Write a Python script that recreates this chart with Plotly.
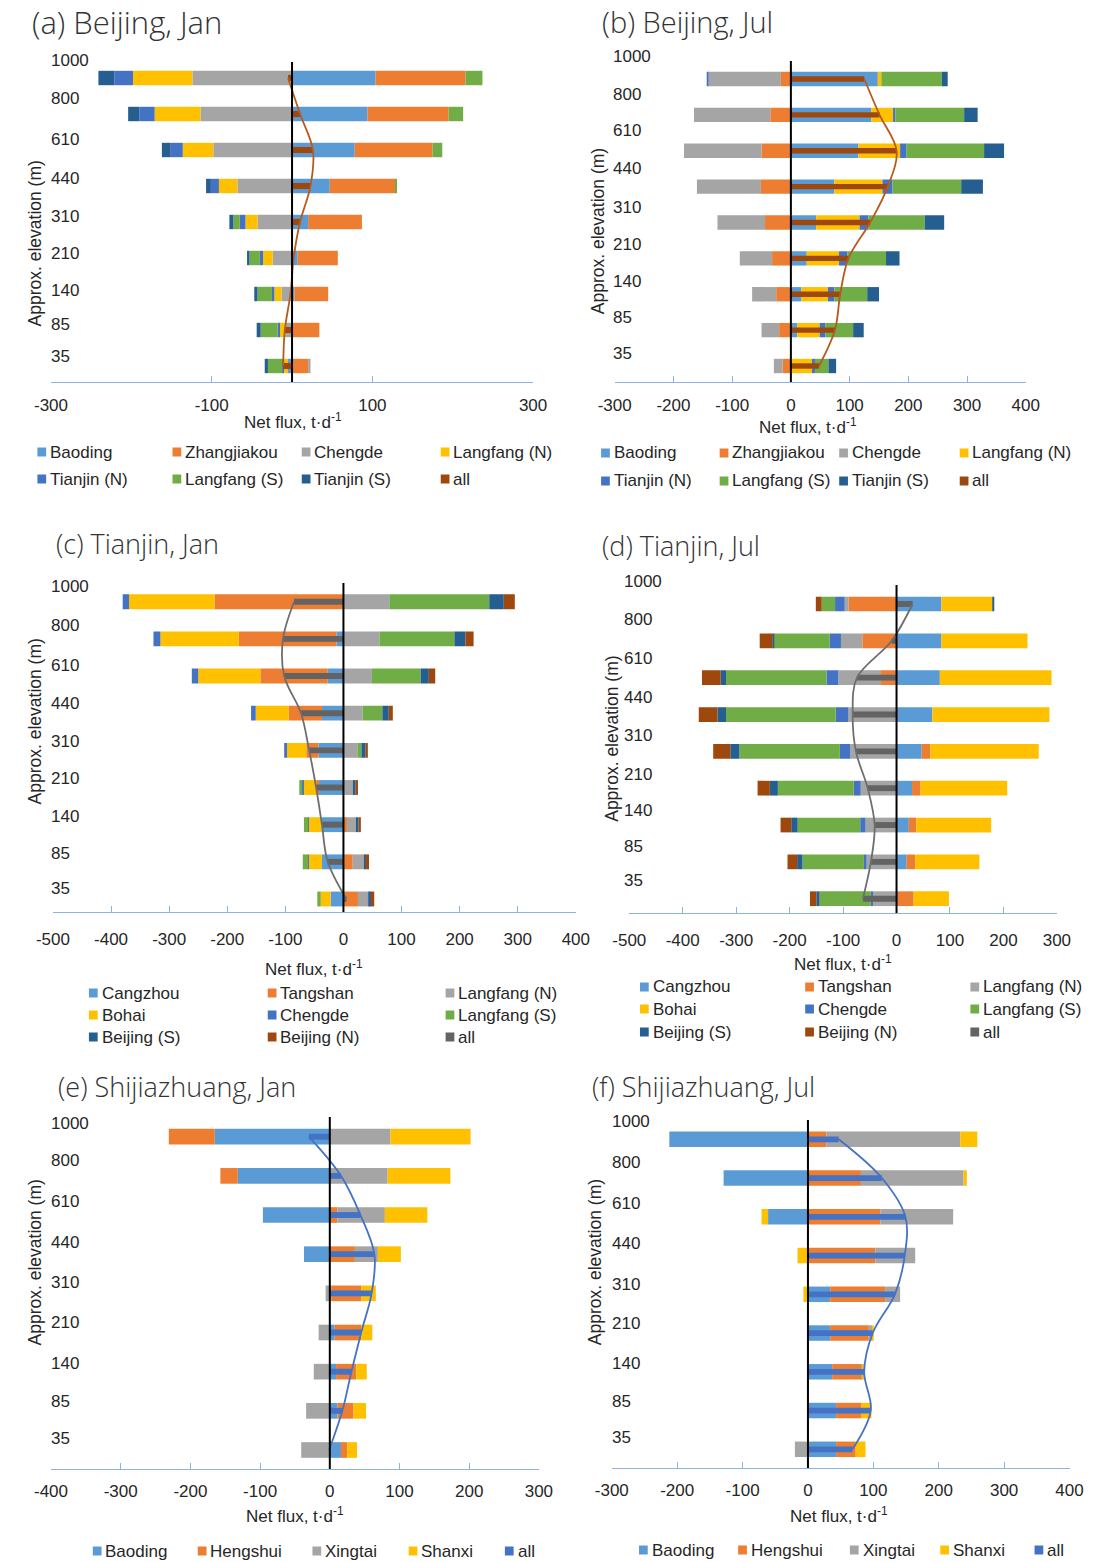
import plotly.graph_objects as go

W, H = 1102, 1562

levels = ["1000", "800", "610", "440", "310", "210", "140", "85", "35"]

# (a) Beijing, Jan — net flux by source region, t/d
a_baoding = [104, 94, 78, 47, 20, 7, 3, 0, -5]
a_zhangjiakou = [112, 101, 97, 82, 67, 50, 42, 34, 20]
a_chengde = [-124, -114, -98, -68, -43, -24, -13, -9, 3]
a_langfang_n = [-74, -57, -38, -23, -15, -12, -9, -7, -5]
a_tianjin_n = [-23, -19, -15, -10, -7, -4, -3, -2, -2]
a_langfang_s = [21, 18, 12, 1, -8, -13, -18, -21, -18]
a_tianjin_s = [-20, -14, -11, -6, -5, -3, -4, -5, -4]
a_all = [-5, 10, 26, 23, 10, 2, -2, -9, -11]

# (b) Beijing, Jul
b_baoding = [148, 137, 115, 74, 43, 27, 18, 11, 1]
b_zhangjiakou = [-17, -35, -50, -51, -44, -32, -25, -20, -14]
b_chengde = [-123, -130, -132, -109, -81, -55, -41, -30, -15]
b_langfang_n = [6, 37, 71, 82, 74, 55, 45, 38, 35]
b_tianjin_n = [-2, 4, 11, 17, 15, 14, 11, 10, 5]
b_langfang_s = [103, 117, 132, 117, 96, 66, 56, 47, 23]
b_tianjin_s = [10, 23, 34, 37, 33, 23, 20, 18, 13]
b_all = [125, 151, 180, 165, 135, 98, 84, 75, 48]

# (c) Tianjin, Jan
c_cangzhou = [0, -12, -27, -37, -43, -42, -38, -37, -22]
c_tangshan = [-222, -168, -116, -57, -21, -5, 6, 16, 25]
c_langfang_n = [79, 62, 49, 33, 24, 18, 17, 20, 18]
c_bohai = [-147, -135, -107, -57, -33, -22, -22, -23, -17]
c_chengde = [-11, -12, -11, -8, -5, -2, -1, -1, 2]
c_langfang_s = [172, 129, 84, 34, 7, -5, -7, -9, -6]
c_beijing_s = [25, 19, 14, 11, 7, 3, 3, 2, 2]
c_beijing_n = [19, 14, 11, 7, 4, 4, 4, 6, 6]
c_all = [-85, -104, -102, -73, -59, -47, -37, -27, 5]

# (d) Tianjin, Jul
d_cangzhou = [84, 84, 81, 67, 47, 29, 23, 19, 0]
d_tangshan = [-90, -64, -29, 0, 16, 16, 14, 16, 32]
d_langfang_n = [-7, -40, -80, -90, -87, -67, -58, -56, -44]
d_bohai = [96, 161, 209, 219, 203, 162, 140, 120, 66]
d_chengde = [-18, -21, -22, -24, -19, -13, -10, -5, -4]
d_langfang_s = [-25, -105, -188, -205, -188, -142, -117, -115, -96]
d_beijing_s = [1, -2, -10, -16, -17, -15, -12, -10, -6]
d_beijing_n = [-11, -24, -35, -35, -32, -23, -20, -18, -12]
d_all = [30, -9, -74, -82, -76, -54, -41, -48, -63]

# (e) Shijiazhuang, Jan
e_baoding = [-165, -132, -96, -37, 2, 7, 9, 11, 16]
e_hengshui = [-66, -25, 11, 36, 43, 38, 29, 23, 9]
e_xingtai = [87, 83, 68, 33, -6, -16, -23, -34, -41]
e_shanxi = [115, 90, 61, 33, 21, 16, 15, 18, 14]
e_all = [-30, 16, 44, 64, 60, 45, 31, 18, -1]

# (f) Shijiazhuang, Jul
f_baoding = [-212, -129, -61, 0, 34, 34, 37, 43, 43]
f_hengshui = [28, 81, 111, 103, 84, 59, 45, 39, 30]
f_xingtai = [205, 157, 111, 61, 23, 5, 1, 0, -20]
f_shanxi = [26, 5, -10, -16, -7, 2, 4, 15, 15]
f_all = [47, 113, 149, 148, 133, 99, 86, 96, 68]

PAL = ["#5B9BD5", "#ED7D31", "#A5A5A5", "#FFC000", "#4472C4",
       "#70AD47", "#255E91", "#9E480E", "#636363"]

bj_names = ["Baoding", "Zhangjiakou", "Chengde", "Langfang (N)",
            "Tianjin (N)", "Langfang (S)", "Tianjin (S)"]
tj_names = ["Cangzhou", "Tangshan", "Langfang (N)", "Bohai", "Chengde",
            "Langfang (S)", "Beijing (S)", "Beijing (N)"]
sjz_names = ["Baoding", "Hengshui", "Xingtai", "Shanxi"]

# pixel layout of each panel: plot box, bar rows, label spots, legend grid
panels = [
    dict(title="(a) Beijing, Jan", tx=13, ty=22, tsize=31,
         names=bj_names,
         series=[a_baoding, a_zhangjiakou, a_chengde, a_langfang_n,
                 a_tianjin_n, a_langfang_s, a_tianjin_s],
         total=a_all, all_color=PAL[7], curve="#B65B1F",
         xr=(-300, 300), dt=200, x0=35, x1=531, T=62, B=382, c0=78, c8=366,
         allw=0.17, lab_x=33,
         lift=[0.49, 0.44, 0.29, 0.21, 0.15, 0.13, 0.11, 0.16, 0.26],
         ytx=19, yty=243, ntx=284, nty=421, stand=7,
         leg_cols=[21, 160, 293, 436], leg_rows=[452, 479], ncol=4),
    dict(title="(b) Beijing, Jul", tx=600, ty=22, tsize=29,
         names=bj_names,
         series=[b_baoding, b_zhangjiakou, b_chengde, b_langfang_n,
                 b_tianjin_n, b_langfang_s, b_tianjin_s],
         total=b_all, all_color=PAL[7], curve="#B65B1F",
         xr=(-300, 400), dt=100, x0=615, x1=1038, T=61, B=382, c0=79, c8=366,
         allw=0.15, lab_x=611,
         lift=[0.62, 0.58, 0.56, 0.51, 0.41, 0.38, 0.35, 0.34, 0.35],
         ytx=598, yty=231, ntx=814, nty=426, stand=7,
         leg_cols=[601, 723, 846, 970], leg_rows=[453, 481], ncol=4),
    dict(title="(c) Tianjin, Jan", tx=38, ty=543, tsize=27,
         names=tj_names,
         series=[c_cangzhou, c_tangshan, c_langfang_n, c_bohai, c_chengde,
                 c_langfang_s, c_beijing_s, c_beijing_n],
         total=c_all, all_color=PAL[8], curve="#6E6E6E",
         xr=(-500, 400), dt=100, x0=37, x1=575, T=583, B=912, c0=601.7, c8=899,
         allw=0.16, lab_x=33,
         lift=[0.42, 0.36, 0.28, 0.27, 0.24, 0.23, 0.21, 0.22, 0.29],
         ytx=19, yty=721, ntx=306, nty=968, stand=11,
         leg_cols=[74, 258, 441], leg_rows=[993, 1015, 1037], ncol=3),
    dict(title="(d) Tianjin, Jul", tx=600, ty=546, tsize=27,
         names=tj_names,
         series=[d_cangzhou, d_tangshan, d_langfang_n, d_bohai, d_chengde,
                 d_langfang_s, d_beijing_s, d_beijing_n],
         total=d_all, all_color=PAL[8], curve="#6E6E6E",
         xr=(-500, 300), dt=100, x0=630, x1=1070, T=585, B=913, c0=604, c8=898.7,
         allw=0.16, lab_x=623,
         lift=[0.61, 0.59, 0.53, 0.46, 0.42, 0.37, 0.39, 0.42, 0.49],
         ytx=612, yty=739, ntx=850, nty=963, stand=11,
         leg_cols=[641, 811, 981], leg_rows=[987, 1009, 1032], ncol=3),
    dict(title="(e) Shijiazhuang, Jan", tx=40, ty=1086, tsize=27,
         names=sjz_names,
         series=[e_baoding, e_hengshui, e_xingtai, e_shanxi],
         total=e_all, all_color=PAL[4], curve="#4472C4",
         xr=(-400, 300), dt=100, x0=35, x1=537, T=1117, B=1469, c0=1136.7, c8=1450,
         allw=0.15, lab_x=33,
         lift=[0.34, 0.38, 0.34, 0.31, 0.27, 0.25, 0.21, 0.23, 0.30],
         ytx=19, yty=1262, ntx=286, nty=1515, stand=6,
         leg_cols=[78, 186, 304, 403, 502], leg_rows=[1551], ncol=5),
    dict(title="(f) Shijiazhuang, Jul", tx=590, ty=1086, tsize=27,
         names=sjz_names,
         series=[f_baoding, f_hengshui, f_xingtai, f_shanxi],
         total=f_all, all_color=PAL[4], curve="#4472C4",
         xr=(-300, 400), dt=100, x0=612, x1=1083, T=1120, B=1468, c0=1139.3, c8=1449.3,
         allw=0.15, lab_x=610,
         lift=[0.46, 0.39, 0.34, 0.30, 0.26, 0.24, 0.21, 0.23, 0.31],
         ytx=595, yty=1262, ntx=846, nty=1515, stand=6,
         leg_cols=[640, 742, 857, 950, 1047], leg_rows=[1550], ncol=5),
]

TXT = "#262626"
SANS = "Liberation Sans, Arial, sans-serif"
AXC = "#8DB3E2"


def px(x):
    return x / W


def py(y):
    return 1 - y / H


fig = go.Figure()
layout = dict(width=W, height=H, margin=dict(l=0, r=0, t=0, b=0),
              paper_bgcolor="white", plot_bgcolor="rgba(0,0,0,0)",
              barmode="relative", showlegend=False)
annotations, shapes = [], []
rows = list(range(len(levels)))

for k, p in enumerate(panels):
    xid = "x" if k == 0 else f"x{k + 1}"
    xkey = "xaxis" if k == 0 else f"xaxis{k + 1}"
    ym, yo = 2 * k + 1, 2 * k + 2
    ymid = "y" if ym == 1 else f"y{ym}"
    yoid = f"y{yo}"

    step = (p["c8"] - p["c0"]) / 8
    top = -(p["c0"] - p["T"]) / step
    bot = 8 + (p["B"] - p["c8"]) / step
    ydom = [py(p["B"]), py(p["T"])]

    tvals = list(range(p["xr"][0], p["xr"][1] + 1, p["dt"]))
    layout[xkey] = dict(domain=[px(p["x0"]), px(p["x1"])], range=list(p["xr"]),
                        anchor=ymid, showline=True, linecolor=AXC, linewidth=1.3,
                        ticks="inside", ticklen=6, tickcolor=AXC, tickwidth=1.3,
                        tickvals=tvals, ticktext=[str(v) for v in tvals],
                        showgrid=False, zeroline=False,
                        ticklabelstandoff=p["stand"],
                        tickfont=dict(family=SANS, size=17, color=TXT))
    layout["yaxis" if ym == 1 else f"yaxis{ym}"] = dict(
        domain=ydom, range=[bot, top], anchor=xid, visible=False)
    layout[f"yaxis{yo}"] = dict(domain=ydom, range=[bot, top], anchor=xid,
                                overlaying=ymid, visible=False)

    # stacked source contributions
    for j, (name, vals) in enumerate(zip(p["names"], p["series"])):
        fig.add_trace(go.Bar(y=rows, x=vals, orientation="h", name=name,
                             width=0.4, marker=dict(color=PAL[j], line_width=0),
                             xaxis=xid, yaxis=ymid))
    # net total as a thin bar plus a smoothed profile
    fig.add_trace(go.Bar(y=rows, x=p["total"], orientation="h", name="all",
                         width=p["allw"],
                         marker=dict(color=p["all_color"], line_width=0),
                         xaxis=xid, yaxis=yoid))
    fig.add_trace(go.Scatter(y=rows, x=p["total"], mode="lines", name="all",
                             line=dict(shape="spline", smoothing=1.0,
                                       color=p["curve"], width=1.8),
                             xaxis=xid, yaxis=yoid))

    shapes.append(dict(type="line", xref=xid, yref=f"{ymid} domain",
                       x0=0, x1=0, y0=0, y1=1, layer="above",
                       line=dict(color="black", width=2)))

    # elevation labels, sitting a little above each bar row
    for i, lv in enumerate(levels):
        ly = p["c0"] + (i - p["lift"][i]) * step
        annotations.append(dict(text=lv, x=px(p["lab_x"]), y=py(ly),
                                xref="paper", yref="paper",
                                xanchor="left", yanchor="middle",
                                showarrow=False,
                                font=dict(family=SANS, size=17, color=TXT)))

    annotations.append(dict(text=p["title"], x=px(p["tx"]), y=py(p["ty"]),
                            xref="paper", yref="paper", xanchor="left",
                            yanchor="middle", showarrow=False,
                            font=dict(family="Open Sans, Noto Sans, sans-serif",
                                      size=p["tsize"], weight=300,
                                      color="#333333")))
    annotations.append(dict(text="Approx. elevation (m)", textangle=-90,
                            x=px(p["ytx"]), y=py(p["yty"]), xref="paper",
                            yref="paper", xanchor="center", yanchor="middle",
                            showarrow=False,
                            font=dict(family=SANS, size=17.5, color=TXT)))
    annotations.append(dict(text="Net flux, t·d<sup>-1</sup>", x=px(p["ntx"]),
                            y=py(p["nty"]), xref="paper", yref="paper",
                            xanchor="center", yanchor="middle", showarrow=False,
                            font=dict(family=SANS, size=17, color=TXT)))

    # legend grid
    entries = list(zip(p["names"], PAL)) + [("all", p["all_color"])]
    for n, (name, col) in enumerate(entries):
        sx = p["leg_cols"][n % p["ncol"]]
        sy = p["leg_rows"][n // p["ncol"]]
        shapes.append(dict(type="rect", xref="paper", yref="paper",
                           x0=px(sx), x1=px(sx + 9), y0=py(sy + 4.5),
                           y1=py(sy - 4.5), fillcolor=col, line_width=0))
        annotations.append(dict(text=name, x=px(sx + 11), y=py(sy),
                                xref="paper", yref="paper", xanchor="left",
                                yanchor="middle", showarrow=False,
                                font=dict(family=SANS, size=17, color=TXT)))

layout["annotations"] = annotations
layout["shapes"] = shapes
fig.update_layout(**layout)
fig.write_html("out.html")
